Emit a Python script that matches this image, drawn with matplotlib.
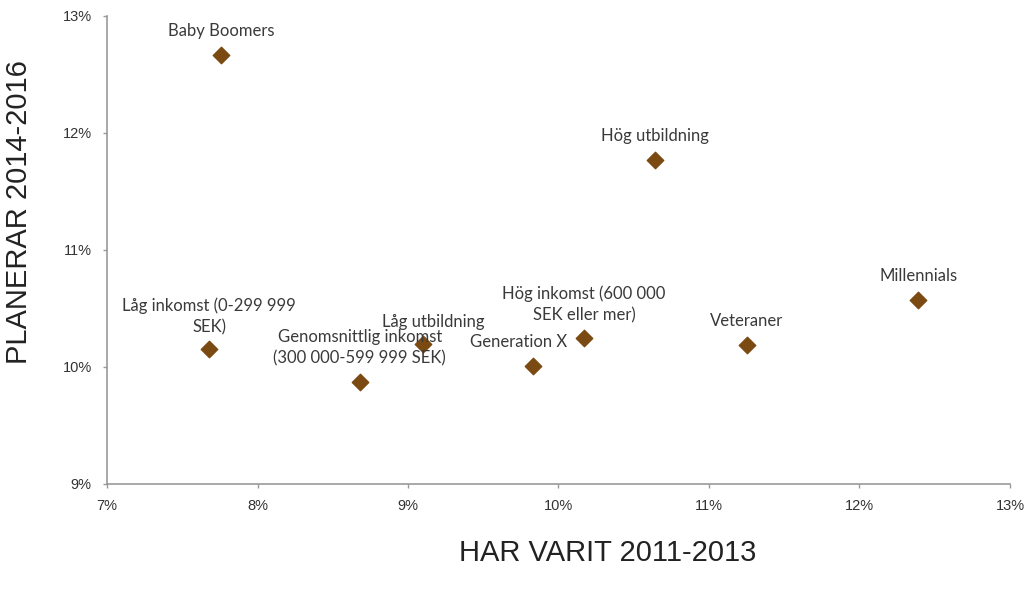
import matplotlib
matplotlib.use("Agg")
import matplotlib.pyplot as plt
from matplotlib.ticker import FuncFormatter

# data (percent)
labels = [
    "Baby Boomers",
    "Hög utbildning",
    "Millennials",
    "Låg inkomst (0-299 999\nSEK)",
    "Låg utbildning",
    "Genomsnittlig inkomst\n(300 000-599 999 SEK)",
    "Generation X",
    "Hög inkomst (600 000\nSEK eller mer)",
    "Veteraner",
]
har_varit = [7.76, 10.64, 12.39, 7.68, 9.10, 8.68, 9.83, 10.17, 11.25]
planerar = [12.67, 11.77, 10.57, 10.15, 10.20, 9.87, 10.01, 10.25, 10.19]

# label offsets in pixels (dx, dy) relative to each point
offsets = [(0, 16), (0, 16), (0, 16), (0, 14), (10, 14), (0, 16), (-14, 16), (0, 14), (0, 16)]

plt.rcParams['font.family'] = ['Liberation Sans', 'DejaVu Sans']

fig = plt.figure(figsize=(10.35, 5.9), dpi=100)
ax = fig.add_axes([0.1034, 0.1797, 0.8724, 0.7932])

ax.scatter(har_varit, planerar, marker="D", s=70, color="#7a4a12", zorder=3)

for name, x, y, (dx, dy) in zip(labels, har_varit, planerar, offsets):
    ax.annotate(name, (x, y), xytext=(dx, dy), textcoords="offset pixels",
                ha="center", va="bottom", fontsize=12, color="#3a3a3a",
                family=["Lato", "DejaVu Sans"], linespacing=1.4)

ax.set_xlim(7, 13)
ax.set_ylim(9, 13)
ax.set_xticks(range(7, 14))
ax.set_yticks(range(9, 14))
pct = FuncFormatter(lambda v, p: f"{v:.0f}%")
ax.xaxis.set_major_formatter(pct)
ax.yaxis.set_major_formatter(pct)

for s in ["top", "right"]:
    ax.spines[s].set_visible(False)
for s in ["left", "bottom"]:
    ax.spines[s].set_color("#999999")
    ax.spines[s].set_linewidth(1.2)
ax.tick_params(colors="#999999", length=3, width=1, labelsize=10.5, labelcolor="#333333")
ax.tick_params(axis="x", pad=8)
ax.tick_params(axis="y", pad=8)

ax.set_xlabel("HAR VARIT 2011-2013", fontsize=21, color="#222222")
ax.set_ylabel("PLANERAR 2014-2016", fontsize=21, color="#222222")
ax.xaxis.set_label_coords(0.555, -0.118)
ax.yaxis.set_label_coords(-0.082, 0.58)

fig.savefig("out.png", dpi=100)
